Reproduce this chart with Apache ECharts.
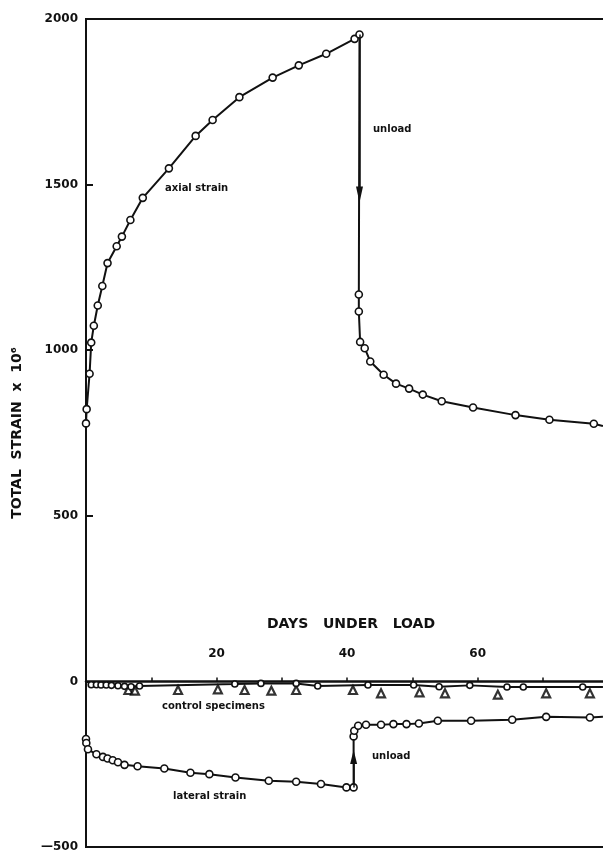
<!DOCTYPE html>
<html>
<head>
<meta charset="utf-8">
<script src="https://cdn.jsdelivr.net/npm/echarts@6/dist/echarts.min.js"></script>
<style>html,body{margin:0;padding:0;background:#fff}#c{width:603px;height:850px}</style>
</head>
<body>
<div id="c"></div>
<script>
// Axial strain (days, strain x 10^6)
const axialDays = [0, 0.1, 0.55, 0.8, 1.2, 1.8, 2.5, 3.3, 4.7, 5.5, 6.8, 8.7, 12.7, 16.8, 19.4, 23.5, 28.6, 32.6, 36.8, 41.15, 41.9,
  41.8, 41.8, 42.0, 42.7, 43.55, 45.6, 47.5, 49.5, 51.6, 54.5, 59.3, 65.8, 71.0, 77.8, 79.2];
const axialVals = [779, 822, 929, 1023, 1074, 1135, 1194, 1263, 1314, 1343, 1393, 1460, 1549, 1647, 1695, 1764, 1823, 1860, 1895, 1940, 1953,
  1168, 1117, 1025, 1006, 966, 926, 899, 884, 866, 846, 827, 804, 790, 778, 771];
// Lateral strain
const lateralDays = [0, 0.05, 0.3, 1.6, 2.6, 3.3, 4.1, 4.9, 5.9, 7.9, 12.0, 16.0, 18.9, 22.9, 28.0, 32.2, 36.0, 39.9, 41.0,
  41.0, 41.1, 41.7, 42.9, 45.2, 47.1, 49.1, 51.0, 53.9, 59.0, 65.3, 70.5, 77.2, 79.2];
const lateralVals = [-174, -186, -205, -220, -228, -233, -238, -244, -252, -256, -263, -276, -280, -290, -300, -303, -310, -320, -320,
  -166, -149, -134, -131, -131, -129, -129, -127, -119, -119, -116, -107, -109, -107];
// Control specimens
const ctrlCircDays = [0.8, 1.6, 2.3, 3.1, 3.9, 4.9, 5.9, 6.9, 8.2, 22.8, 26.8, 32.2, 35.5, 43.2, 50.2, 54.1, 58.8, 64.5, 67.0, 76.1, 79.2];
const ctrlCircVals = [-10, -10, -11, -11, -12, -13, -15, -16, -14, -8, -6, -6, -14, -11, -11, -16, -12, -17, -17, -17, -17];
const ctrlTriDays = [6.5, 7.5, 14.1, 20.2, 24.3, 28.4, 32.2, 40.9, 45.2, 51.1, 55.0, 63.1, 70.5, 77.2];
const ctrlTriVals = [-26, -28, -26, -24, -26, -28, -26, -26, -36, -33, -36, -40, -36, -36];
// Axis ticks
const yTicks = [-500, 0, 500, 1000, 1500, 2000];
const xLabelTicks = [20, 40, 60];

const zip = (a, b) => a.map((d, i) => [d, b[i]]);
const FONT = 'DejaVu Sans';
const markerStyle = { color: '#fff', borderColor: '#111', borderWidth: 1.6 };

const chart = echarts.init(document.getElementById('c'), null, { renderer: 'canvas' });
chart.setOption({
  animation: false,
  backgroundColor: '#fff',
  grid: { left: 86, top: 19, width: 530, bottom: 3, show: true, borderColor: '#111', borderWidth: 2,
    backgroundColor: 'transparent', outerBoundsMode: 'none', containLabel: false },
  xAxis: {
    type: 'value', min: 0, max: 81.2, interval: 10,
    axisLine: { onZero: true, lineStyle: { color: '#111', width: 2.5 } },
    axisTick: { inside: true, length: 4, lineStyle: { color: '#111', width: 1.5 } },
    axisLabel: { inside: true, margin: 187, color: '#111', fontFamily: FONT, fontWeight: 'bold', fontSize: 12,
      formatter: v => xLabelTicks.includes(v) ? String(v) : '' },
    splitLine: { show: false }
  },
  yAxis: {
    type: 'value', min: yTicks[0], max: yTicks[yTicks.length - 1], interval: 500,
    name: 'TOTAL  STRAIN  x  10\u2076', nameLocation: 'middle', nameRotate: 90, nameGap: 62,
    nameTextStyle: { color: '#111', fontFamily: FONT, fontWeight: 'bold', fontSize: 14 },
    axisLine: { show: true, lineStyle: { color: '#111', width: 2 } },
    axisTick: { inside: true, length: 7, lineStyle: { color: '#111', width: 2 } },
    axisLabel: { margin: 8, color: '#111', fontFamily: FONT, fontWeight: 'bold', fontSize: 12,
      formatter: v => v < 0 ? '\u2014' + Math.abs(v) : String(v) },
    splitLine: { show: false }
  },
  series: [
    {
      name: 'axial strain', type: 'line', data: zip(axialDays, axialVals),
      symbol: (v, p) => p.dataIndex === axialDays.length - 1 ? 'none' : 'circle', symbolSize: 7,
      itemStyle: markerStyle, lineStyle: { color: '#111', width: 2 },
      markLine: {
        silent: true, symbol: ['none', 'triangle'], symbolSize: [7, 16],
        lineStyle: { color: '#111', width: 1.5, type: 'solid' }, label: { show: false },
        data: [[{ coord: [41.9, 1953] }, { coord: [41.9, 1470] }]]
      }
    },
    {
      name: 'lateral strain', type: 'line', data: zip(lateralDays, lateralVals),
      symbol: (v, p) => p.dataIndex === lateralDays.length - 1 ? 'none' : 'circle', symbolSize: 7,
      itemStyle: markerStyle, lineStyle: { color: '#111', width: 2 },
      markLine: {
        silent: true, symbol: ['none', 'triangle'], symbolSize: [7, 14],
        lineStyle: { color: '#111', width: 1.5, type: 'solid' }, label: { show: false },
        data: [[{ coord: [41.0, -320] }, { coord: [41.0, -228] }]]
      }
    },
    {
      name: 'control (circles)', type: 'line', data: zip(ctrlCircDays, ctrlCircVals),
      symbol: (v, p) => p.dataIndex === ctrlCircDays.length - 1 ? 'none' : 'circle', symbolSize: 6,
      itemStyle: markerStyle, lineStyle: { color: '#111', width: 2 }
    },
    {
      name: 'control (triangles)', type: 'scatter', data: zip(ctrlTriDays, ctrlTriVals),
      symbol: 'triangle', symbolSize: 8,
      itemStyle: { color: '#fff', borderColor: '#000', borderWidth: 2.2 }
    }
  ],
  graphic: [
    { type: 'text', left: 165, top: 183, style: { text: 'axial strain', fill: '#111', font: 'bold 10px "DejaVu Sans"' } },
    { type: 'text', left: 373, top: 124, style: { text: 'unload', fill: '#111', font: 'bold 10px "DejaVu Sans"' } },
    { type: 'text', left: 162, top: 701, style: { text: 'control specimens', fill: '#111', font: 'bold 10px "DejaVu Sans"' } },
    { type: 'text', left: 173, top: 791, style: { text: 'lateral strain', fill: '#111', font: 'bold 10px "DejaVu Sans"' } },
    { type: 'text', left: 372, top: 751, style: { text: 'unload', fill: '#111', font: 'bold 10px "DejaVu Sans"' } },
    { type: 'text', left: 267, top: 617, style: { text: 'DAYS   UNDER   LOAD', fill: '#111', font: 'bold 14px "DejaVu Sans"' } }
  ]
});
</script>
</body>
</html>
